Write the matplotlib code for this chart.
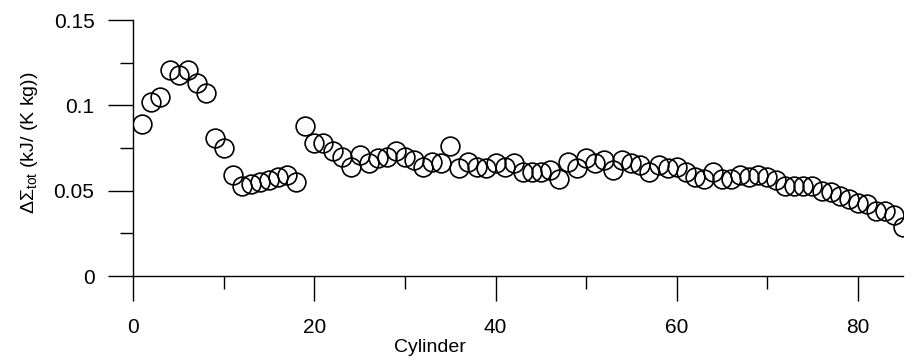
import numpy as np
import matplotlib
matplotlib.use('Agg')
import matplotlib.pyplot as plt
import matplotlib.ticker as tck

plt.rcParams['font.family'] = ['Liberation Sans', 'DejaVu Sans']
plt.rcParams['mathtext.fontset'] = 'custom'
plt.rcParams['mathtext.rm'] = 'Liberation Sans'
plt.rcParams['mathtext.it'] = 'Liberation Sans'

# cylinder index and total entropy change (kJ/(K kg))
cylinder = np.arange(1, 86)
dsigma = [0.089, 0.102, 0.105, 0.121, 0.118, 0.121, 0.113, 0.107, 0.081, 0.075,
          0.059, 0.053, 0.054, 0.055, 0.056, 0.058, 0.059, 0.055, 0.088, 0.078,
          0.078, 0.073, 0.070, 0.064, 0.071, 0.066, 0.069, 0.070, 0.073, 0.070,
          0.068, 0.064, 0.067, 0.066, 0.076, 0.063, 0.067, 0.064, 0.063, 0.066,
          0.064, 0.066, 0.061, 0.061, 0.061, 0.062, 0.057, 0.067, 0.063, 0.069,
          0.066, 0.068, 0.062, 0.068, 0.066, 0.065, 0.061, 0.065, 0.063, 0.064,
          0.061, 0.058, 0.057, 0.061, 0.057, 0.057, 0.059, 0.058, 0.059, 0.058,
          0.056, 0.053, 0.053, 0.053, 0.053, 0.050, 0.049, 0.047, 0.045, 0.043,
          0.042, 0.038, 0.038, 0.036, 0.029]

xticks = [0, 20, 40, 60, 80]
yticks = [0, 0.05, 0.1, 0.15]
yticklabels = ['0', '0.05', '0.1', '0.15']

fig = plt.figure(figsize=(9.18, 3.6), dpi=100)
ax = fig.add_axes([0.1452, 0.2333, 0.8385, 0.7111])

ax.plot(cylinder, dsigma, linestyle='none', marker='o', markersize=13.5,
        markerfacecolor='none', markeredgecolor='black', markeredgewidth=1.2)

ax.set_xlim(0, 85)
ax.set_ylim(0, 0.15)
ax.spines['top'].set_visible(False)
ax.spines['right'].set_visible(False)
ax.spines['left'].set_linewidth(1.0)
ax.spines['bottom'].set_linewidth(1.0)

ax.set_xticks(xticks)
ax.set_yticks(yticks)
ax.set_yticklabels(yticklabels)
ax.xaxis.set_minor_locator(tck.MultipleLocator(10))
ax.yaxis.set_minor_locator(tck.MultipleLocator(0.025))
ax.tick_params(which='major', direction='out', length=18, width=1.0, labelsize=15)
ax.tick_params(which='minor', direction='out', length=9.5, width=1.0)
ax.tick_params(axis='y', which='major', pad=10)
ax.tick_params(axis='x', which='major', pad=12)

ax.set_xlabel('Cylinder', fontsize=14)
ax.xaxis.set_label_coords(0.3855, -0.245)
ax.set_ylabel(r'$\Delta\Sigma_{\mathrm{tot}}$ (kJ/ (K kg))', fontsize=14)
ax.yaxis.set_label_coords(-0.121, 0.52)

plt.savefig('out.png', dpi=100)
